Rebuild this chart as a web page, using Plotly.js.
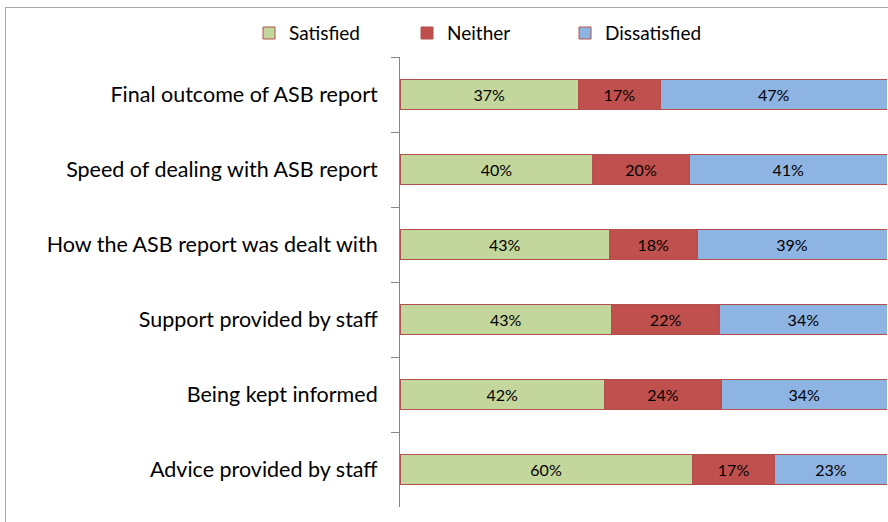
<!DOCTYPE html>
<html>
<head>
<meta charset="utf-8">
<script src="https://cdn.plot.ly/plotly-3.0.1.min.js"></script>
<style>
  body { margin: 0; background: #fff; }
  #chart { width: 888px; height: 522px; }
  #frame { position: absolute; left: 5px; top: 7px; width: 900px; height: 600px;
           border-left: 1px solid #a6a6a6; border-top: 1px solid #a6a6a6; pointer-events: none; }
</style>
</head>
<body>
<div id="chart"></div>
<div id="frame"></div>
<script>
// survey categories, top to bottom
const categories = [
  "Final outcome of ASB report",
  "Speed of dealing with ASB report",
  "How the ASB report was dealt with",
  "Support provided by staff",
  "Being kept informed",
  "Advice provided by staff"
];

const satisfied    = [37, 40, 43, 43, 42, 60];
const neither      = [17, 20, 18, 22, 24, 17];
const dissatisfied = [47, 41, 39, 34, 34, 23];

const seriesNames  = ["Satisfied", "Neither", "Dissatisfied"];
const seriesColors = ["#c3d69b", "#c0504d", "#8eb4e3"];

const font = "Lato, 'Open Sans', sans-serif";

const traces = [satisfied, neither, dissatisfied].map((vals, i) => ({
    type: "bar",
    orientation: "h",
    name: seriesNames[i],
    y: categories,
    x: vals,
    text: vals.map(v => v + "%"),
    textposition: "inside",
    insidetextanchor: "middle",
    textangle: 0,
    constraintext: "none",
    textfont: { family: font, size: 16, color: "#000" },
    marker: { color: seriesColors[i], line: { color: "#b3504d", width: 1 } },
    hoverinfo: "skip"
}));

Plotly.newPlot("chart", traces, {
    width: 888,
    height: 522,
    barmode: "stack",
    barnorm: "percent",
    bargap: 0.6,
    margin: { l: 400, r: 1, t: 57, b: 15 },
    paper_bgcolor: "#fff",
    plot_bgcolor: "#fff",
    font: { family: font, size: 19, color: "#000" },
    showlegend: true,
    legend: {
        orientation: "h",
        x: -0.31,
        xanchor: "left",
        y: 1.053,
        yanchor: "middle",
        entrywidth: 113,
        entrywidthmode: "pixels",
        font: { family: font, size: 19, color: "#000" },
        traceorder: "normal"
    },
    xaxis: {
        range: [0, 100],
        showticklabels: false,
        showgrid: false,
        zeroline: false,
        showline: false,
        ticks: ""
    },
    yaxis: {
        autorange: "reversed",
        showline: true,
        linecolor: "#868686",
        linewidth: 1,
        ticks: "outside",
        tickson: "boundaries",
        ticklen: 8,
        tickcolor: "#868686",
        showgrid: false,
        ticklabelstandoff: 17,
        tickfont: { family: font, size: 21.5, color: "#000" }
    }
}, { staticPlot: true });
</script>
</body>
</html>
